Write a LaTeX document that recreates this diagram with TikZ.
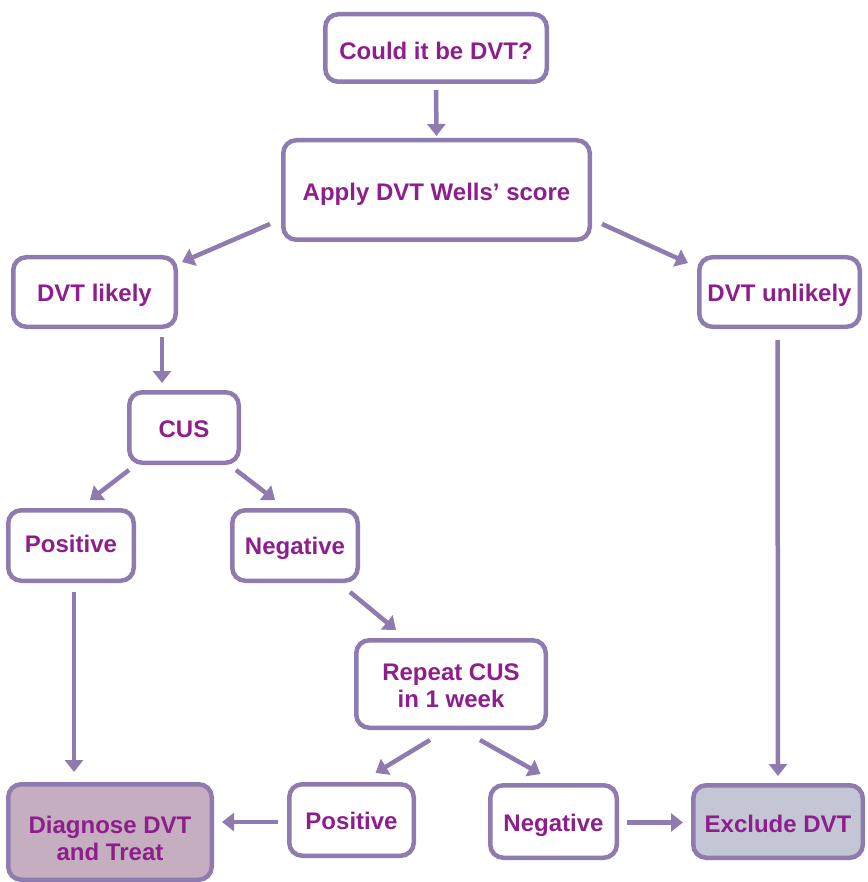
\documentclass[tikz,border=0pt]{standalone}
\usepackage{fontspec}
\setmainfont{Liberation Sans}
\definecolor{lavline}{RGB}{142,123,176}
\definecolor{plumtext}{RGB}{142,30,140}
\definecolor{mauvefill}{RGB}{196,174,192}
\definecolor{greyfill}{RGB}{196,198,214}
\usetikzlibrary{arrows.meta}
% text set a little below the box centre, box size kept
\newcommand{\lowered}[2][3pt]{\raisebox{-#1}[\height][\depth]{#2}}

\tikzset{
  box/.style={draw=lavline, line width=4.5pt, rounded corners=13pt, fill=white,
              align=center, text=plumtext, inner sep=0pt,
              font=\fontsize{24}{27}\selectfont\bfseries},
  flow/.style={draw=lavline, line width=4.5pt, -{Triangle[length=12pt,width=18pt]}},
}

\begin{document}
\begin{tikzpicture}[x=1pt, y=-1pt]
  \useasboundingbox (0,0) rectangle (867,882);

  % boxes
  \node[box, minimum width=221.5pt, minimum height=67.5pt] (could) at (436,48) {\lowered{Could it be DVT?}};
  \node[box, minimum width=306.5pt, minimum height=99.5pt] (apply) at (436.5,190) {\lowered[4pt]{Apply DVT Wells’ score}};
  \node[box, minimum width=162.5pt, minimum height=69.5pt] (likely) at (94.5,292) {\lowered{DVT likely}};
  \node[box, minimum width=160.5pt, minimum height=69.5pt] (unlikely) at (779.5,292) {\lowered{DVT unlikely}};
  \node[box, minimum width=109.5pt, minimum height=70.5pt] (cus) at (184,427.5) {\lowered[2pt]{CUS}};
  \node[box, minimum width=125.5pt, minimum height=70.5pt] (posa) at (71,545.5) {\lowered[-1.5pt]{Positive}};
  \node[box, minimum width=125.5pt, minimum height=70.5pt] (nega) at (295,545.5) {\lowered[2.5pt]{Negative}};
  \node[box, minimum width=189.5pt, minimum height=87.5pt] (repeat) at (451,684) {\lowered[1.5pt]{Repeat CUS}\\ \lowered[1.5pt]{in 1 week}};
  \node[box, fill=mauvefill, minimum width=203.5pt, minimum height=95.5pt] (diag) at (110,832) {\lowered[6pt]{Diagnose DVT}\\\lowered[6pt]{and Treat}};
  \node[box, minimum width=124.5pt, minimum height=71.5pt] (posb) at (351.5,820) {\lowered[1pt]{Positive}};
  \node[box, minimum width=126.5pt, minimum height=72.5pt] (negb) at (553.5,821.5) {\lowered[4pt]{Negative}};
  \node[box, fill=greyfill, minimum width=169.5pt, minimum height=72.5pt] (excl) at (778,821.5) {\lowered[2pt]{Exclude DVT}};

  % connectors
  \coordinate (likelyout) at ([shift={(-16,8)}]likely.south east);
  \draw[flow] ([shift={(0,6)}]could.south) -- ([shift={(0,-2)}]apply.north);
  \draw[flow] ([shift={(-11,-18)}]apply.south west) -- ([shift={(4,7)}]likely.north east);
  \draw[flow] ([shift={(10,-18)}]apply.south east) -- ([shift={(-9,8)}]unlikely.north west);
  \draw[flow, shorten >=7pt] (likelyout) -- (likelyout |- cus.north);
  \draw[flow] ([shift={(2,5)}]cus.south west) -- ([shift={(-46,-8)}]posa.north east);
  \draw[flow] ([shift={(-5,5)}]cus.south east) -- ([shift={(45,-8)}]nega.north west);
  \draw[flow] ([shift={(-10,9)}]nega.south east) -- ([shift={(42,-8)}]repeat.north west);
  \draw[flow] ([shift={(3,9)}]posa.south) -- ([shift={(-36,-10)}]diag.north);
  \draw[flow] ([shift={(76,10)}]repeat.south west) -- ([shift={(24,-9)}]posb.north);
  \draw[flow] ([shift={(-68,10)}]repeat.south east) -- ([shift={(-13,-9)}]negb.north);
  \draw[flow] ([shift={(-9,2)}]posb.west) -- ([shift={(8,-10)}]diag.east);
  \draw[flow] ([shift={(8,1)}]negb.east) -- ([shift={(-8,1)}]excl.west);
  \draw[flow] ([shift={(-2,11)}]unlikely.south) -- ([shift={(0,-7)}]excl.north);
\end{tikzpicture}
\end{document}
